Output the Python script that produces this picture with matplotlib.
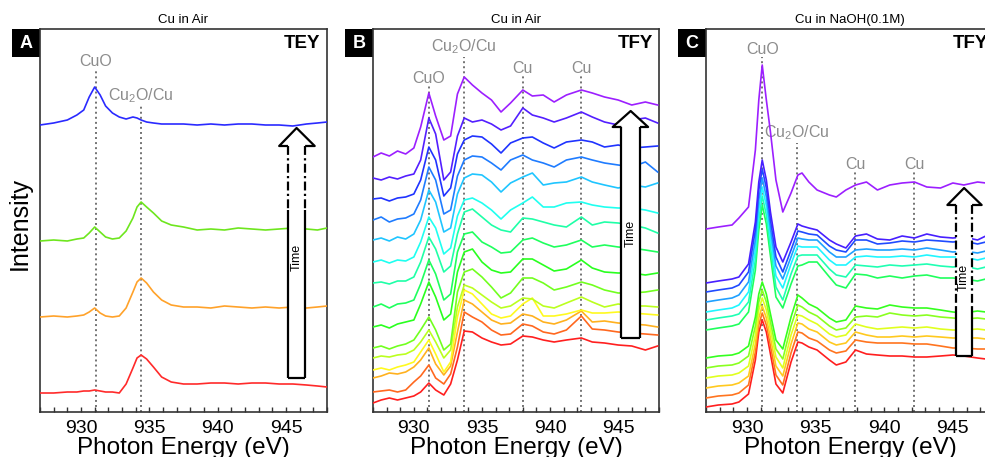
import numpy as np
import matplotlib
matplotlib.use("Agg")
import matplotlib.pyplot as plt
from matplotlib.patches import Polygon, Rectangle
from matplotlib.ticker import MultipleLocator
from matplotlib.colors import hsv_to_rgb

plt.rcParams['font.family'] = ['Liberation Sans', 'DejaVu Sans']
plt.rcParams['mathtext.default'] = 'regular'

# ---- panel A : Cu in air, TEY (4 spectra, bottom -> top) ----
energy_a = [927.0, 928.0, 929.0, 929.7, 930.2, 930.6, 931.0, 931.4, 931.8, 932.3, 932.8,
            933.3, 933.8, 934.1, 934.4, 934.8, 935.3, 935.9, 936.6, 937.5, 938.5, 939.5,
            940.5, 941.5, 942.5, 943.5, 944.5, 945.5, 946.5, 947.3, 948.0]
tey_red = [19, 19, 20, 20, 21, 21, 22, 21, 20, 20, 19, 28, 44, 54, 57, 53, 45, 35, 30, 28,
           28, 29, 29, 28, 29, 29, 28, 28, 27, 26, 25]
tey_orange = [95, 96, 95, 96, 97, 100, 104, 99, 96, 95, 96, 104, 120, 130, 134, 129, 120, 112,
              107, 105, 105, 104, 106, 105, 104, 105, 104, 105, 104, 105, 106]
tey_green = [171, 172, 171, 173, 174, 179, 185, 180, 175, 173, 174, 181, 194, 205, 210, 205, 199,
             191, 187, 185, 182, 183, 182, 184, 183, 182, 183, 184, 183, 182, 184]
tey_blue = [287, 289, 292, 297, 302, 315, 325, 317, 306, 299, 295, 293, 295, 294, 292, 290, 289,
            288, 288, 288, 287, 288, 287, 288, 288, 287, 287, 286, 288, 289, 290]

# ---- panel B : Cu in air, TFY (15 spectra, bottom -> top) ----
energy_b = [927.0, 927.6, 928.2, 928.8, 929.4, 930.0, 930.5, 931.1, 931.6, 932.2, 932.7, 933.2,
            933.7, 934.3, 935.0, 935.7, 936.4, 937.1, 938.0, 938.7, 939.5, 940.3, 941.2, 942.3,
            943.1, 944.0, 945.0, 946.0, 947.0, 947.9]
tfy_air = [
    [9, 12, 14, 12, 14, 16, 20, 29, 22, 17, 28, 52, 81, 80, 74, 70, 67, 68, 76, 75, 72, 70, 72, 74, 70, 69, 67, 66, 62, 66],
    [20, 21, 22, 20, 22, 30, 36, 47, 34, 28, 38, 65, 100, 95, 90, 82, 77, 78, 88, 86, 80, 78, 82, 96, 83, 82, 80, 79, 78, 77],
    [34, 36, 39, 38, 40, 45, 52, 64, 48, 37, 46, 80, 112, 108, 100, 92, 88, 89, 98, 96, 90, 88, 92, 101, 90, 91, 89, 88, 87, 85],
    [42, 44, 42, 45, 47, 50, 60, 72, 58, 40, 50, 95, 122, 118, 108, 98, 94, 96, 108, 114, 96, 96, 98, 102, 99, 99, 100, 99, 98, 97],
    [54, 56, 55, 57, 58, 62, 70, 82, 70, 54, 62, 105, 127, 124, 117, 110, 104, 106, 114, 113, 106, 104, 109, 115, 110, 105, 108, 106, 106, 105],
    [64, 66, 63, 66, 68, 72, 82, 95, 82, 62, 68, 120, 140, 143, 135, 125, 114, 119, 134, 134, 129, 122, 125, 130, 127, 122, 119, 119, 120, 122],
    [85, 87, 84, 88, 90, 92, 108, 130, 115, 92, 98, 140, 160, 163, 150, 142, 139, 140, 153, 153, 147, 141, 143, 152, 144, 140, 139, 139, 137, 139],
    [105, 108, 104, 108, 109, 112, 128, 152, 138, 112, 118, 160, 178, 180, 170, 165, 159, 160, 172, 174, 169, 165, 167, 172, 165, 167, 165, 164, 162, 160],
    [129, 130, 128, 131, 131, 135, 150, 175, 163, 140, 146, 178, 200, 203, 195, 187, 182, 180, 194, 193, 190, 187, 185, 195, 187, 190, 189, 187, 184, 179],
    [150, 152, 149, 152, 151, 155, 170, 195, 184, 158, 164, 196, 212, 214, 209, 202, 193, 202, 209, 215, 205, 205, 209, 210, 207, 205, 204, 204, 202, 199],
    [172, 174, 171, 175, 173, 178, 192, 222, 210, 180, 184, 218, 234, 238, 237, 230, 220, 229, 235, 239, 227, 229, 230, 235, 230, 227, 224, 227, 225, 229],
    [192, 195, 190, 193, 194, 198, 212, 245, 232, 198, 202, 236, 252, 256, 255, 249, 242, 252, 257, 252, 249, 245, 252, 255, 252, 249, 247, 245, 250, 240],
    [213, 214, 211, 214, 215, 218, 232, 265, 252, 216, 224, 258, 272, 276, 275, 268, 259, 269, 274, 275, 269, 264, 270, 272, 270, 265, 267, 264, 265, 266],
    [234, 232, 235, 233, 236, 238, 252, 294, 278, 232, 240, 276, 294, 290, 292, 288, 282, 286, 304, 297, 294, 290, 294, 300, 295, 290, 287, 292, 294, 289],
    [255, 259, 256, 261, 258, 264, 285, 319, 296, 272, 276, 318, 335, 327, 319, 312, 300, 309, 322, 316, 317, 310, 317, 322, 319, 315, 312, 307, 310, 307],
]

# ---- panel C : Cu in NaOH(0.1M), TFY (13 spectra, bottom -> top) ----
energy_c = [927.0, 927.9, 928.9, 929.4, 930.1, 930.6, 930.85, 931.1, 931.4, 931.7, 932.1, 932.6,
            933.2, 933.7, 934.0, 934.5, 935.1, 936.0, 936.5, 937.2, 937.9, 938.7, 939.5, 940.4,
            941.3, 942.2, 943.1, 944.1, 945.0, 945.8, 946.8, 947.4, 948.0]
tfy_naoh = [
    [5, 7, 8, 10, 18, 52, 80, 92, 80, 58, 28, 19, 50, 70, 69, 65, 62, 52, 47, 50, 62, 58, 57, 56, 56, 55, 55, 56, 57, 56, 54, 53, 52],
    [14, 16, 17, 19, 27, 60, 87, 99, 87, 66, 37, 27, 59, 80, 79, 74, 71, 62, 59, 61, 72, 70, 69, 69, 69, 68, 68, 66, 64, 64, 63, 63, 63],
    [24, 26, 27, 29, 36, 68, 94, 106, 94, 74, 46, 36, 68, 89, 88, 83, 80, 70, 67, 69, 80, 77, 75, 75, 76, 75, 76, 75, 74, 74, 74, 73, 74],
    [34, 36, 37, 39, 46, 77, 102, 114, 102, 82, 55, 44, 77, 97, 96, 92, 88, 78, 75, 77, 88, 85, 83, 84, 85, 84, 85, 83, 82, 82, 83, 82, 82],
    [44, 46, 47, 49, 56, 86, 110, 122, 110, 90, 63, 53, 86, 107, 105, 100, 96, 86, 82, 84, 95, 96, 95, 99, 97, 96, 97, 95, 94, 93, 94, 93, 94],
    [54, 56, 57, 59, 66, 95, 118, 130, 118, 98, 72, 63, 95, 117, 114, 108, 104, 94, 90, 92, 106, 104, 103, 107, 105, 104, 104, 102, 100, 99, 101, 100, 101],
    [82, 84, 86, 88, 100, 142, 182, 207, 188, 156, 115, 104, 128, 146, 147, 150, 150, 135, 127, 124, 138, 137, 134, 136, 134, 136, 137, 134, 134, 133, 131, 133, 132],
    [92, 94, 96, 98, 110, 152, 192, 216, 197, 165, 125, 112, 138, 156, 157, 157, 157, 143, 137, 135, 147, 146, 145, 147, 146, 147, 148, 146, 145, 146, 143, 145, 144],
    [100, 102, 104, 107, 120, 162, 202, 225, 206, 174, 136, 124, 148, 166, 165, 165, 165, 152, 147, 147, 155, 156, 155, 155, 156, 155, 157, 155, 155, 155, 152, 154, 153],
    [110, 112, 114, 117, 130, 172, 212, 234, 215, 183, 146, 133, 155, 174, 173, 172, 172, 160, 155, 155, 162, 163, 162, 162, 163, 162, 164, 162, 160, 161, 159, 161, 160],
    [120, 122, 124, 127, 140, 182, 222, 243, 224, 192, 155, 140, 162, 181, 180, 178, 177, 166, 162, 160, 172, 172, 168, 169, 171, 170, 172, 171, 170, 171, 168, 170, 169],
    [129, 131, 133, 135, 148, 190, 230, 252, 232, 200, 165, 150, 170, 188, 186, 184, 182, 172, 168, 164, 176, 178, 173, 172, 176, 174, 178, 175, 174, 175, 172, 176, 174],
    [183, 185, 187, 194, 205, 262, 312, 347, 312, 280, 232, 200, 219, 237, 239, 230, 222, 217, 215, 222, 227, 230, 222, 227, 229, 230, 225, 224, 229, 227, 230, 229, 229],
]

# reference energies and their labels
ref_a = [931.1, 934.4]
ref_b = [931.1, 933.7, 938.0, 942.3]
ref_c = [931.1, 933.6, 937.9, 942.2]
ref_names_a = ['CuO', 'Cu$_2$O/Cu']
ref_names = ['CuO', 'Cu$_2$O/Cu', 'Cu', 'Cu']


def setup_axes(ax, letter, mode, title):
    ax.set_xlim(927, 948)
    ax.set_ylim(0, 383)
    ax.xaxis.set_major_locator(MultipleLocator(5))
    ax.xaxis.set_minor_locator(MultipleLocator(1))
    ax.tick_params(axis='x', which='both', direction='in', length=3.8, width=1.0,
                   labelsize=14, pad=6, color='#333333')
    ax.set_yticks([])
    for s in ax.spines.values():
        s.set_linewidth(1.2)
        s.set_color('#333333')
    ax.set_xlabel('Photon Energy (eV)', fontsize=17.5, labelpad=0)
    ax.text(0.5, 1.0235, title, transform=ax.transAxes, ha='center', va='center', fontsize=9.5)
    ax.text(0.978, 0.962, mode, transform=ax.transAxes, ha='right', va='center',
            fontsize=13.5, fontweight='bold')
    bw, bh = 28 / 287, 28 / 383
    ax.add_patch(Rectangle((-bw, 1 - bh), bw, bh, transform=ax.transAxes, clip_on=False,
                           fc='black', ec='none'))
    ax.text(-bw / 2, 1 - bh / 2, letter, transform=ax.transAxes, ha='center', va='center',
            color='white', fontsize=13, fontweight='bold')


def ref_lines(ax, energies, tops, names):
    for e, t, n in zip(energies, tops, names):
        ax.vlines(e, 0, t, colors='0.45', linestyles=(0, (1.0, 1.6)), lw=1.4, zorder=1)
        pad = 6 if '$' in n else 3
        ax.text(e, t + pad, n, ha='center', va='baseline', color='0.55', fontsize=11.5)


def time_arrow(ax, shaft, head, tip, base, bottom, dash_to=None, text_y=None):
    x0, x1 = shaft
    hx0, hx1 = head
    xc = (x0 + x1) / 2
    pts = [(x0, bottom), (x0, base), (hx0, base), (xc, tip), (hx1, base), (x1, base), (x1, bottom)]
    ax.add_patch(Polygon(pts, closed=True, fc='white', ec='none', zorder=5))
    kw = dict(color='black', lw=1.6, zorder=6, solid_capstyle='butt')
    ax.plot([x0, hx0, xc, hx1, x1], [base, base, tip, base, base], **kw)
    ax.plot([x0, x1], [bottom, bottom], **kw)
    for x in (x0, x1):
        if dash_to is None:
            ax.plot([x, x], [base, bottom], **kw)
        else:
            ax.plot([x, x], [base, dash_to], linestyle=(0, (4, 1.5, 1, 1.5)), **kw)
            ax.plot([x, x], [dash_to, bottom], **kw)
    ax.text(xc, text_y, 'Time', rotation=90, ha='center', va='center', fontsize=9, zorder=7)


fig = plt.figure(figsize=(9.85, 4.57), dpi=100)
ax_a = fig.add_axes([40 / 985, 45 / 457, 287 / 985, 383 / 457])
ax_b = fig.add_axes([373 / 985, 45 / 457, 286 / 985, 383 / 457])
ax_c = fig.add_axes([706 / 985, 45 / 457, 288 / 985, 383 / 457])

# panel A
setup_axes(ax_a, 'A', 'TEY', 'Cu in Air')
ref_lines(ax_a, ref_a, [343, 306], ref_names_a)
for y, c in zip([tey_red, tey_orange, tey_green, tey_blue],
                ['#ff2a2a', '#ffa22a', '#6ee61e', '#2a2aff']):
    ax_a.plot(energy_a, y, color=c, lw=1.2, zorder=3)
time_arrow(ax_a, (945.15, 946.4), (944.5, 947.1), 284, 266, 34, dash_to=202, text_y=155)
fig.text(20 / 985, 1 - 224 / 457, 'Intensity', rotation=90, ha='center', va='center', fontsize=18)

# panel B
setup_axes(ax_b, 'B', 'TFY', 'Cu in Air')
ref_lines(ax_b, ref_b, [326, 355, 336, 336], ref_names)
hues_b = np.linspace(0, 0.76, len(tfy_air))
for y, h in zip(tfy_air, hues_b):
    ax_b.plot(energy_b, y, color=hsv_to_rgb((h, 0.88, 1.0)), lw=1.2, zorder=3)
time_arrow(ax_b, (945.24, 946.6), (944.6, 947.2), 301, 285, 74, text_y=179)

# panel C
setup_axes(ax_c, 'C', 'TFY', 'Cu in NaOH(0.1M)')
ref_lines(ax_c, ref_c, [355, 269, 240, 240], ref_names)
hues_c = np.linspace(0, 0.76, len(tfy_naoh))
for y, h in zip(tfy_naoh, hues_c):
    ax_c.plot(energy_c, y, color=hsv_to_rgb((h, 0.88, 1.0)), lw=1.2, zorder=3)
time_arrow(ax_c, (945.24, 946.4), (944.6, 947.1), 224, 207, 56, dash_to=104, text_y=135)

fig.savefig('out.png', dpi=100)
